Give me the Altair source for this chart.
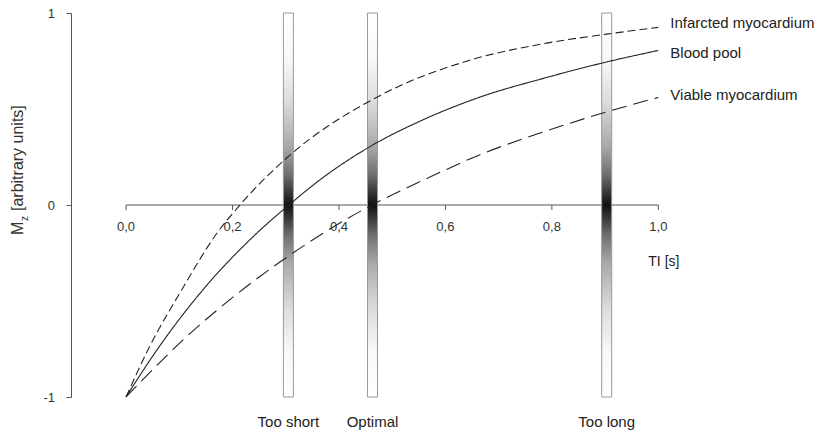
import altair as alt
import pandas as pd

# ---- data ----
series_names = ["Infarcted myocardium", "Blood pool", "Viable myocardium"]

infarct_t = [0.0, 0.042, 0.105, 0.17, 0.214, 0.308, 0.462, 0.647, 0.79, 0.903, 1.0]
infarct_mz = [-1.0, -0.75, -0.44, -0.15, 0.0, 0.26, 0.548, 0.755, 0.843, 0.89, 0.925]

blood_t = [0.0, 0.058, 0.13, 0.246, 0.306, 0.371, 0.462, 0.559, 0.665, 0.79, 0.903, 1.0]
blood_mz = [-1.0, -0.755, -0.49, -0.146, 0.0, 0.145, 0.31, 0.445, 0.562, 0.664, 0.745, 0.805]

viable_t = [0.0, 0.058, 0.114, 0.17, 0.302, 0.462, 0.559, 0.665, 0.79, 0.903, 1.0]
viable_mz = [-1.0, -0.835, -0.685, -0.55, -0.272, 0.0, 0.13, 0.262, 0.386, 0.485, 0.56]

label_mz = [0.948, 0.792, 0.573]  # vertical position of the right-hand labels

x_ticks = [0.0, 0.2, 0.4, 0.6, 0.8, 1.0]
x_tick_labels = ["0,0", "0,2", "0,4", "0,6", "0,8", "1,0"]
y_ticks = [-1, 0, 1]
y_tick_labels = ["-1", "0", "1"]

ti_choices = [0.305, 0.463, 0.903]
ti_choice_labels = ["Too short", "Optimal", "Too long"]

# ---- tables ----
rows = []
for name, ts, ms in zip(series_names, [infarct_t, blood_t, viable_t],
                        [infarct_mz, blood_mz, viable_mz]):
    for t, m in zip(ts, ms):
        rows.append({"series": name, "t": t, "mz": m})
curves = pd.DataFrame(rows)

labels_df = pd.DataFrame({"series": series_names, "t": [1.0] * 3, "mz": label_mz})
ticks_df = pd.DataFrame({"t": x_ticks, "lab": x_tick_labels, "zero": 0.0, "tk": -0.026})
yticks_df = pd.DataFrame({"v": y_ticks, "lab": y_tick_labels})
axis_df = pd.DataFrame({"t0": [x_ticks[0]], "t1": [x_ticks[-1]], "zero": [0.0]})
bars_df = pd.DataFrame({"t": ti_choices, "lab": ti_choice_labels,
                        "top": 1.0, "bottom": -1.0})

FONT = "Liberation Sans"
xs = alt.Scale(domain=[-0.1034, 1.3], nice=False, zero=False)
ys = alt.Scale(domain=[-1, 1], nice=False, zero=False)

# x axis line (custom, only from 0 to 1) + the left y axis (line and ticks)
x_line = alt.Chart(axis_df).mark_rule(color="#555", strokeWidth=1).encode(
    x=alt.X("t0:Q", scale=xs, axis=None),
    x2="t1:Q",
    y=alt.Y("zero:Q", scale=ys,
            axis=alt.Axis(values=y_ticks, labels=False, title=None, grid=False,
                          tickSize=5, domainColor="#555", tickColor="#555")),
)

y_tick_text = alt.Chart(yticks_df).mark_text(
    font=FONT, fontSize=13, color="#333", align="right", baseline="middle", dx=-16, dy=1
).encode(
    x=alt.value(0),
    y=alt.Y("v:Q", scale=ys),
    text="lab:N",
)

x_tick_marks = alt.Chart(ticks_df).mark_rule(color="#555", strokeWidth=1).encode(
    x=alt.X("t:Q", scale=xs, axis=None),
    y=alt.Y("zero:Q", scale=ys),
    y2="tk:Q",
)

x_tick_text = alt.Chart(ticks_df).mark_text(
    font=FONT, fontSize=13, color="#333", dy=22, baseline="middle"
).encode(
    x=alt.X("t:Q", scale=xs, axis=None),
    y=alt.Y("zero:Q", scale=ys),
    text="lab:N",
)

x_title = alt.Chart(pd.DataFrame({"t": [x_ticks[-1]], "zero": [0.0], "txt": ["TI [s]"]})).mark_text(
    font=FONT, fontSize=14, color="#222", align="left", dx=-10, dy=57, baseline="middle"
).encode(
    x=alt.X("t:Q", scale=xs, axis=None),
    y=alt.Y("zero:Q", scale=ys),
    text="txt:N",
)

grad = alt.Gradient(
    gradient="linear", x1=0, x2=0, y1=0, y2=1,
    stops=[
        alt.GradientStop(color="#ffffff", offset=0.0),
        alt.GradientStop(color="#f8f8f8", offset=0.12),
        alt.GradientStop(color="#dcdcdc", offset=0.23),
        alt.GradientStop(color="#a8a8a8", offset=0.35),
        alt.GradientStop(color="#707070", offset=0.42),
        alt.GradientStop(color="#333333", offset=0.47),
        alt.GradientStop(color="#111111", offset=0.5),
        alt.GradientStop(color="#333333", offset=0.53),
        alt.GradientStop(color="#707070", offset=0.58),
        alt.GradientStop(color="#a8a8a8", offset=0.65),
        alt.GradientStop(color="#dcdcdc", offset=0.77),
        alt.GradientStop(color="#f8f8f8", offset=0.88),
        alt.GradientStop(color="#ffffff", offset=1.0),
    ],
)

bars = alt.Chart(bars_df).transform_calculate(
    left="datum.t - 0.0094", right="datum.t + 0.0094"
).mark_rect(fill=grad, stroke="#999", strokeWidth=1).encode(
    x=alt.X("left:Q", scale=xs, axis=None),
    x2="right:Q",
    y=alt.Y("top:Q", scale=ys),
    y2="bottom:Q",
)

bar_text = alt.Chart(bars_df).mark_text(
    font=FONT, fontSize=15, color="#222", dy=25, baseline="middle"
).encode(
    x=alt.X("t:Q", scale=xs, axis=None),
    y=alt.Y("bottom:Q", scale=ys),
    text="lab:N",
)

lines = alt.Chart(curves).mark_line(
    color="#222", strokeWidth=1.1, interpolate="monotone"
).encode(
    x=alt.X("t:Q", scale=xs, axis=None),
    y=alt.Y("mz:Q", scale=ys),
    detail="series:N",
    strokeDash=alt.StrokeDash(
        "series:N",
        scale=alt.Scale(domain=series_names, range=[[8, 4], [1, 0], [15, 7]]),
        legend=None,
    ),
)

series_text = alt.Chart(labels_df).mark_text(
    font=FONT, fontSize=15, color="#222", align="left", dx=12, baseline="middle"
).encode(
    x=alt.X("t:Q", scale=xs, axis=None),
    y=alt.Y("mz:Q", scale=ys),
    text="series:N",
)

# y-axis title: M with subscript z, then [arbitrary units]
ttl_m = alt.Chart(pd.DataFrame({"s": ["M"]})).mark_text(
    font=FONT, fontSize=16, color="#333", angle=270, align="left", baseline="middle"
).encode(x=alt.value(-53), y=alt.value(222), text="s:N")
ttl_z = alt.Chart(pd.DataFrame({"s": ["z"]})).mark_text(
    font=FONT, fontSize=10, color="#333", angle=270, align="left", baseline="middle"
).encode(x=alt.value(-46), y=alt.value(208), text="s:N")
ttl_rest = alt.Chart(pd.DataFrame({"s": ["[arbitrary units]"]})).mark_text(
    font=FONT, fontSize=16, color="#333", angle=270, align="left", baseline="middle"
).encode(x=alt.value(-53), y=alt.value(198), text="s:N")

chart = alt.layer(
    x_line, y_tick_text, x_tick_marks, x_tick_text, x_title, bars, bar_text, lines,
    series_text, ttl_m, ttl_z, ttl_rest
).properties(
    width=747, height=384,
    autosize=alt.AutoSizeParams(type="none"),
    padding={"left": 63, "top": 5, "right": 5, "bottom": 35},
).configure_view(stroke=None)

chart.save("out.html", embed_options={"renderer": "svg", "actions": False})
